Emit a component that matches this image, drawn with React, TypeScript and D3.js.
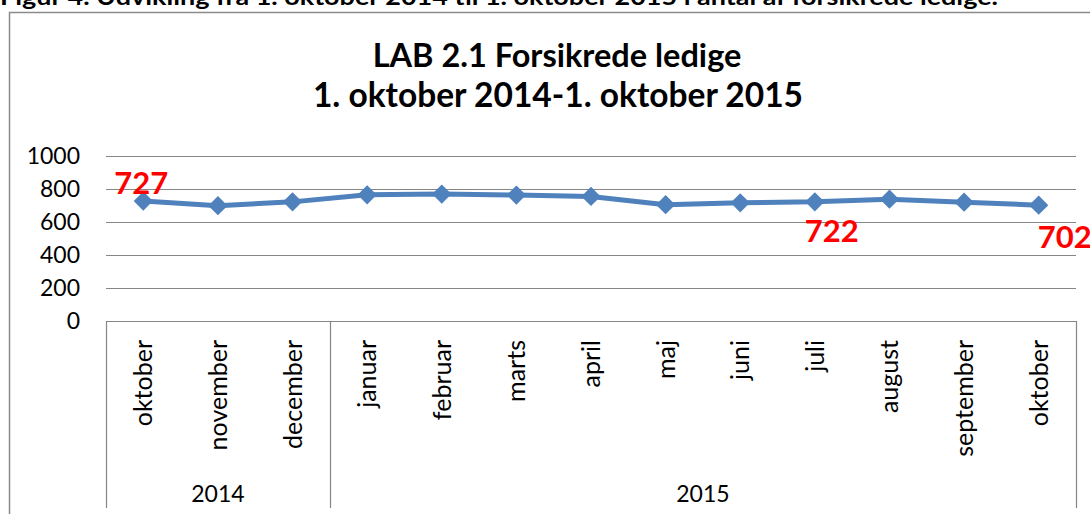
import React from 'react';
import * as d3 from 'd3';

// data
const months = ['oktober', 'november', 'december', 'januar', 'februar', 'marts', 'april', 'maj', 'juni', 'juli', 'august', 'september', 'oktober'];
const years = ['2014', '2015'];
const yearSpan = [3, 10]; // number of months under each year
const ledige = [727, 699, 722, 765, 769, 763, 755, 705, 716, 722, 738, 720, 702];
const yTicks = [0, 200, 400, 600, 800, 1000];
// which points get a red value label, and where (dx, dy from the point)
const callouts = [
  { idx: 0, dx: -2, dy: -7 },
  { idx: 9, dx: 17, dy: 40 },
  { idx: 12, dx: 26, dy: 43 },
];

const W = 1090;
const H = 514;
const FONT = 'Lato, "Open Sans", sans-serif';
const GRID = '#868686';
const BLUE = '#4F81BD';

const App: React.FC = () => {
  const plotLeft = 106;
  const plotRight = 1076;
  const plotTop = 156;
  const plotBottom = 321;
  const axisBottom = 508;

  const keys = months.map((m, i) => `${i}-${m}`);
  const x = d3.scaleBand<string>().domain(keys).range([plotLeft, plotRight]).padding(0);
  const cx = (i: number) => (x(keys[i]) ?? 0) + x.bandwidth() / 2;
  const y = d3.scaleLinear().domain([0, 1000]).range([plotBottom, plotTop]);

  const line = d3.line<number>()
    .x((_, i) => cx(i))
    .y(d => y(d));

  const diamond = d3.symbol().type(d3.symbolSquare).size(185)();

  // year group boundaries
  const bounds: number[] = [];
  let acc = 0;
  yearSpan.forEach(n => { bounds.push(acc); acc += n; });
  const edge = (i: number) => (i >= keys.length ? plotRight : (x(keys[i]) ?? 0));

  return (
    <div style={{ position: 'absolute', left: 0, top: 0 }}>
      <svg width={W} height={H} style={{ display: 'block', background: '#fff' }}>
        {/* figure caption, cut off at the top like the source */}
        <text x={0} y={5} fontFamily={FONT} fontWeight={700} fontSize={23} textLength={998} lengthAdjust="spacingAndGlyphs" fill="#000">
          Figur 4. Udvikling fra 1. oktober 2014 til 1. oktober 2015 i antal af forsikrede ledige.
        </text>

        {/* chart frame */}
        <path d={`M9.5,${H} V12.5 H${W}`} fill="none" stroke="#8a8a8a" strokeWidth={1.5} />

        {/* title */}
        <text x={557} y={67} textAnchor="middle" fontFamily={FONT} fontWeight={700} fontSize={32.5} fill="#000">
          LAB 2.1 Forsikrede ledige
        </text>
        <text x={558} y={107} textAnchor="middle" fontFamily={FONT} fontWeight={700} fontSize={33.5} fill="#000">
          1. oktober 2014-1. oktober 2015
        </text>

        {/* gridlines + y labels */}
        {yTicks.map(t => (
          <g key={t}>
            <line x1={plotLeft} x2={plotRight} y1={Math.round(y(t)) + 0.5} y2={Math.round(y(t)) + 0.5} stroke={GRID} strokeWidth={1.2} />
            <text x={80} y={y(t) + 8} textAnchor="end" fontFamily={FONT} fontSize={23} fill="#000">{t}</text>
          </g>
        ))}

        {/* category axis box */}
        {[...bounds, keys.length].map(b => (
          <line key={b} x1={Math.round(edge(b)) + 0.5} x2={Math.round(edge(b)) + 0.5} y1={plotBottom} y2={axisBottom} stroke={GRID} strokeWidth={1.2} />
        ))}

        {months.map((m, i) => (
          <text key={keys[i]} transform={`translate(${cx(i) + 9},340) rotate(-90)`} textAnchor="end" fontFamily={FONT} fontSize={25} fill="#000">
            {m}
          </text>
        ))}

        {years.map((yr, j) => {
          const a = edge(bounds[j]);
          const b = edge(bounds[j] + yearSpan[j]);
          return (
            <text key={yr} x={(a + b) / 2} y={502} textAnchor="middle" fontFamily={FONT} fontSize={23} fill="#000">{yr}</text>
          );
        })}

        {/* series */}
        <path d={line(ledige) ?? ''} fill="none" stroke={BLUE} strokeWidth={5} strokeLinejoin="round" />
        {ledige.map((v, i) => (
          <path key={i} d={diamond ?? ''} transform={`translate(${cx(i)},${y(v)}) rotate(45)`} fill={BLUE} />
        ))}

        {/* red value callouts */}
        {callouts.map(c => (
          <text key={c.idx} x={cx(c.idx) + c.dx} y={y(ledige[c.idx]) + c.dy} textAnchor="middle" fontFamily={FONT} fontWeight={700} fontSize={31} fill="#FF0000">
            {ledige[c.idx]}
          </text>
        ))}
      </svg>
    </div>
  );
};

export default App;
